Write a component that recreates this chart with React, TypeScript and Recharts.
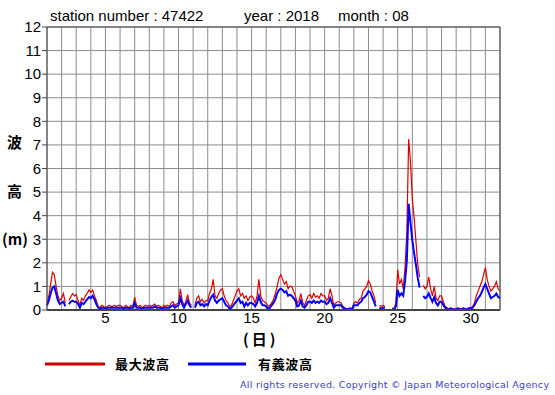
import React from "react";
import {
  LineChart,
  Line,
  XAxis,
  YAxis,
  CartesianGrid,
  ReferenceLine,
} from "recharts";

// 3-hourly readings, 8 per day, 1 Aug 00h .. 1 Sep 00h (null = missing)
const maxWave: (number | null)[] = [
  0.3, 0.6, 1.1, 1.6, 1.5, 1.0, 0.6, 0.4, // 1
  0.5, 0.7, 0.3, null, 0.4, 0.55, 0.7, 0.6, // 2
  0.65, 0.4, 0.2, 0.5, 0.4, 0.6, 0.7, 0.85, // 3
  0.75, 0.85, 0.6, 0.4, 0.15, 0.1, 0.2, 0.15, // 4
  0.1, 0.15, 0.2, 0.15, 0.15, 0.2, 0.15, 0.2, // 5
  0.2, 0.15, 0.1, 0.2, 0.15, 0.1, 0.2, 0.15, // 6
  0.55, 0.2, 0.15, 0.2, 0.1, 0.15, 0.2, 0.15, // 7
  0.2, 0.15, 0.2, 0.25, 0.15, 0.2, 0.15, 0.1, // 8
  0.2, 0.15, 0.2, 0.15, 0.3, 0.35, 0.2, 0.25, // 9
  0.3, 0.9, 0.4, 0.2, 0.35, 0.65, 0.3, 0.2, // 10
  null, 0.2, 0.5, 0.6, 0.35, 0.45, 0.3, 0.4, // 11
  0.4, 0.7, 0.9, 1.3, 0.6, 0.5, 0.7, 0.85, // 12
  0.9, 0.6, 0.4, 0.3, 0.15, 0.2, 0.4, 0.6, // 13
  0.8, 0.9, 0.6, 0.7, 0.5, 0.6, 0.4, 0.55, // 14
  0.6, 0.5, 0.3, 0.6, 1.3, 0.6, 0.4, 0.35, // 15
  0.3, 0.15, 0.2, 0.3, 0.45, 0.7, 1.0, 1.35, // 16
  1.5, 1.3, 1.1, 1.2, 0.9, 1.0, 1.0, 0.8, // 17
  0.6, 0.3, 0.4, 0.7, 0.3, 0.2, 0.4, 0.6, // 18
  0.65, 0.5, 0.7, 0.55, 0.6, 0.5, 0.7, 0.6, // 19
  0.6, 0.4, 0.5, 0.9, 0.6, 0.2, 0.3, 0.35, // 20
  0.35, 0.3, 0.15, 0.1, 0.05, 0.05, 0.1, 0.05, // 21
  0.3, 0.35, 0.3, 0.45, 0.5, 0.8, 0.9, 1.0, // 22
  1.25, 1.1, 0.8, 0.6, 0.3, null, 0.2, 0.15, // 23
  0.2, 0.15, null, 0.7, null, 0.1, 0.05, 0.3, // 24
  1.7, 1.1, 1.3, 0.9, 1.8, 3.3, 7.25, 6.3, // 25
  4.7, 3.9, 2.9, 1.9, 1.4, null, 1.05, 0.9, // 26
  1.0, 1.4, 0.9, 0.6, 1.0, 0.5, 0.4, 0.6, // 27
  0.6, 0.35, 0.15, 0.1, 0.05, 0.1, 0.05, 0.05, // 28
  0.05, 0.1, 0.05, 0.05, 0.1, 0.05, 0.05, 0.1, // 29
  0.1, 0.15, 0.3, 0.6, 0.8, 1.0, 1.2, 1.5, // 30
  1.8, 1.3, 1.0, 0.8, 0.9, 1.0, 1.2, 0.9, // 31
  0.8,
];

const sigWave: (number | null)[] = [
  0.2, 0.4, 0.7, 0.95, 1.0, 0.7, 0.4, 0.25, // 1
  0.3, 0.35, 0.15, null, 0.25, 0.35, 0.4, 0.35, // 2
  0.35, 0.25, 0.1, 0.3, 0.25, 0.35, 0.45, 0.55, // 3
  0.5, 0.6, 0.45, 0.25, 0.1, 0.05, 0.1, 0.1, // 4
  0.05, 0.1, 0.1, 0.1, 0.1, 0.1, 0.1, 0.1, // 5
  0.1, 0.1, 0.05, 0.1, 0.1, 0.05, 0.1, 0.1, // 6
  0.3, 0.1, 0.1, 0.1, 0.05, 0.1, 0.1, 0.1, // 7
  0.1, 0.1, 0.1, 0.15, 0.1, 0.1, 0.1, 0.05, // 8
  0.1, 0.1, 0.1, 0.1, 0.15, 0.2, 0.1, 0.15, // 9
  0.2, 0.5, 0.25, 0.1, 0.25, 0.4, 0.2, 0.1, // 10
  null, 0.1, 0.3, 0.35, 0.2, 0.25, 0.15, 0.25, // 11
  0.2, 0.4, 0.55, 0.65, 0.4, 0.3, 0.4, 0.45, // 12
  0.5, 0.35, 0.2, 0.15, 0.05, 0.1, 0.2, 0.3, // 13
  0.4, 0.5, 0.3, 0.35, 0.15, 0.3, 0.2, 0.3, // 14
  0.3, 0.25, 0.15, 0.3, 0.6, 0.35, 0.2, 0.2, // 15
  0.15, 0.05, 0.1, 0.2, 0.3, 0.45, 0.7, 0.85, // 16
  0.9, 0.85, 0.75, 0.8, 0.6, 0.65, 0.6, 0.5, // 17
  0.4, 0.15, 0.2, 0.4, 0.15, 0.1, 0.2, 0.35, // 18
  0.35, 0.3, 0.4, 0.3, 0.35, 0.3, 0.4, 0.35, // 19
  0.35, 0.25, 0.3, 0.5, 0.3, 0.1, 0.2, 0.2, // 20
  0.2, 0.2, 0.1, 0.05, 0.02, 0.02, 0.05, 0.02, // 21
  0.2, 0.2, 0.2, 0.3, 0.35, 0.5, 0.55, 0.65, // 22
  0.8, 0.75, 0.55, 0.35, 0.15, null, 0.1, 0.05, // 23
  0.1, 0.1, null, 0.5, null, 0.05, 0.02, 0.15, // 24
  0.85, 0.6, 0.7, 0.6, 1.2, 2.1, 4.5, 3.7, // 25
  2.95, 2.4, 1.9, 1.35, 0.95, null, 0.6, 0.5, // 26
  0.55, 0.7, 0.5, 0.35, 0.55, 0.3, 0.2, 0.35, // 27
  0.35, 0.2, 0.1, 0.05, 0.02, 0.05, 0.02, 0.02, // 28
  0.02, 0.05, 0.02, 0.02, 0.05, 0.02, 0.02, 0.05, // 29
  0.05, 0.1, 0.2, 0.35, 0.5, 0.6, 0.75, 0.95, // 30
  1.1, 0.9, 0.7, 0.5, 0.55, 0.6, 0.7, 0.55, // 31
  0.5,
];

const STEPS_PER_DAY = 8;
const dayTicks = Array.from({ length: 32 }, (_, i) => i + 1);
const dayLabels = [5, 10, 15, 20, 25, 30];
const heightTicks = [0, 1, 2, 3, 4, 5, 6, 7, 8, 9, 10, 11, 12];

const data = maxWave.map((v, i) => ({
  day: 1 + i / STEPS_PER_DAY,
  max: v,
  sig: sigWave[i],
}));

const SANS = "'Liberation Sans', Arial, sans-serif";
const CJK = "'Noto Sans CJK JP', sans-serif";

export default function App() {
  return (
    <div style={{ position: "relative", width: 555, height: 395, background: "#fff" }}>
      <style>{"body{margin:0}"}</style>
      <LineChart
        width={555}
        height={395}
        data={data}
        margin={{ top: 27, right: 55, bottom: 55, left: 0 }}
      >
        <CartesianGrid stroke="#8c8c8c" strokeWidth={1} />
        <XAxis
          dataKey="day"
          type="number"
          domain={[1, 32]}
          ticks={dayTicks}
          interval={0}
          height={30}
          tickLine={false}
          tickSize={0}
          tickMargin={2}
          tickFormatter={(d: number) => (dayLabels.includes(d) ? String(d) : "")}
          tick={{ fontSize: 15, fill: "#000", fontFamily: SANS }}
          axisLine={{ stroke: "#444", strokeWidth: 2 }}
        />
        <YAxis
          type="number"
          domain={[0, 12]}
          ticks={heightTicks}
          interval={0}
          width={47}
          tickSize={5}
          tickMargin={1}
          tick={{ fontSize: 15, fill: "#000", fontFamily: SANS }}
          tickLine={{ stroke: "#444" }}
          axisLine={{ stroke: "#444" }}
        />
        <ReferenceLine y={12} stroke="#444" />
        <ReferenceLine x={32} stroke="#444" />
        <Line
          dataKey="max"
          stroke="#dd0000"
          strokeWidth={1.2}
          dot={false}
          isAnimationActive={false}
        />
        <Line
          dataKey="sig"
          stroke="#0000ff"
          strokeWidth={2}
          dot={false}
          isAnimationActive={false}
        />
      </LineChart>
      <svg
        width={555}
        height={395}
        style={{ position: "absolute", left: 0, top: 0, pointerEvents: "none" }}
      >
        <g fontFamily={SANS} fontSize={15} fill="#000">
          <text x={50} y={21}>station number : 47422</text>
          <text x={244} y={21}>year : 2018</text>
          <text x={338} y={21}>month : 08</text>
        </g>
        <g fontFamily={CJK} fontSize={15} fontWeight="bold" fill="#000">
          <text x={7} y={148}>波</text>
          <text x={7} y={197}>高</text>
          <text x={2} y={245}>(m)</text>
          <text x={243} y={345} letterSpacing={3}>(日)</text>
        </g>
        <line x1={45} y1={364} x2={105} y2={364} stroke="#cc0000" strokeWidth={3} />
        <line x1={188} y1={364} x2={246} y2={364} stroke="#0000ff" strokeWidth={3} />
        <g fontFamily={CJK} fontSize={13} fontWeight="bold" fill="#000">
          <text x={115} y={369} textLength={54}>最大波高</text>
          <text x={258} y={369} textLength={54}>有義波高</text>
        </g>
        <text
          x={240}
          y={388}
          fontFamily="'DejaVu Sans', sans-serif"
          fontSize={9.5}
          fill="#4040d0"
          textLength={309}
        >
          All rights reserved. Copyright © Japan Meteorological Agency
        </text>
      </svg>
    </div>
  );
}
